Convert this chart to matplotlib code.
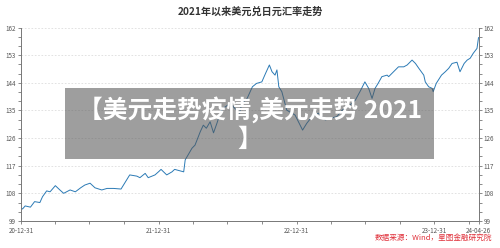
import pandas as pd
import matplotlib
matplotlib.use("Agg")
import matplotlib.pyplot as plt
from matplotlib.patches import Rectangle

plt.rcParams['font.family'] = ['Noto Sans CJK SC', 'DejaVu Sans']

# USD/JPY
dates = [
    '2020-12-31', '2021-01-04', '2021-01-11', '2021-01-25', '2021-02-05', '2021-02-19',
    '2021-02-26', '2021-03-09', '2021-03-18', '2021-04-01', '2021-04-13', '2021-04-23',
    '2021-05-10', '2021-05-24', '2021-06-07', '2021-06-18', '2021-07-02', '2021-07-15',
    '2021-08-02', '2021-08-16', '2021-09-02', '2021-09-22', '2021-10-04', '2021-10-15',
    '2021-11-03', '2021-11-11', '2021-11-25', '2021-12-03', '2021-12-21', '2021-12-31',
    '2022-01-06', '2022-01-21', '2022-02-04', '2022-02-11', '2022-03-07', '2022-03-11',
    '2022-03-29', '2022-04-06', '2022-04-20', '2022-04-28', '2022-05-06', '2022-05-16',
    '2022-05-25', '2022-06-03', '2022-06-13', '2022-06-20', '2022-07-08', '2022-08-02',
    '2022-08-08', '2022-08-22', '2022-09-05', '2022-09-16', '2022-09-30', '2022-10-10',
    '2022-10-20', '2022-10-27', '2022-11-04', '2022-11-09', '2022-11-14', '2022-11-22',
    '2022-12-05', '2022-12-27', '2023-01-16', '2023-01-27', '2023-02-10', '2023-02-27',
    '2023-03-17', '2023-03-30', '2023-04-17', '2023-05-01', '2023-05-22', '2023-06-05',
    '2023-06-19', '2023-06-30', '2023-07-10', '2023-07-19', '2023-07-27', '2023-08-04',
    '2023-08-14', '2023-08-28', '2023-09-01', '2023-09-14', '2023-09-27', '2023-10-11',
    '2023-10-20', '2023-11-02', '2023-11-11', '2023-11-20', '2023-12-03', '2023-12-07',
    '2023-12-16', '2023-12-25', '2023-12-28', '2024-01-05', '2024-01-19', '2024-01-29',
    '2024-02-07', '2024-02-16', '2024-02-29', '2024-03-08', '2024-03-19', '2024-03-27',
    '2024-04-04', '2024-04-12', '2024-04-22', '2024-04-26',
]
rate = [
    103.2, 102.9, 103.9, 103.5, 105.3, 105.0,
    106.9, 108.8, 108.5, 110.5, 109.1, 108.0,
    109.1, 108.5, 109.8, 110.7, 111.3, 109.8,
    109.1, 109.6, 109.6, 109.4, 111.8, 114.0,
    113.6, 113.1, 114.5, 113.1, 114.0, 115.1,
    115.8, 114.0, 115.0, 115.8, 115.0, 118.9,
    122.7, 123.7, 128.1, 130.2, 129.2, 131.3,
    127.7, 130.8, 134.6, 135.7, 137.3, 134.1,
    137.3, 138.9, 142.7, 143.8, 144.3, 147.1,
    149.8, 147.6, 146.5, 148.2, 142.7, 141.1,
    135.1, 133.5, 128.6, 130.8, 133.0, 134.1,
    131.9, 132.4, 133.0, 135.1, 136.8, 138.4,
    141.6, 144.3, 142.2, 138.9, 142.2, 143.8,
    146.0, 146.5, 146.0, 147.6, 149.2, 149.2,
    149.8, 151.4, 150.3, 148.7, 146.5, 144.3,
    142.7, 142.2, 141.1, 143.8, 146.5, 147.6,
    148.7, 150.3, 150.7, 147.6, 150.3, 151.4,
    152.0, 153.6, 155.2, 158.7,
]

yticks = [99, 108, 117, 126, 135, 144, 153, 162]
xtick_dates = ['2020-12-31', '2021-12-31', '2022-12-31', '2023-12-31', '2024-04-26']
xtick_labels = ['20-12-31', '21-12-31', '22-12-31', '23-12-31', '24-04-26']

title = '2021年以来美元兑日元汇率走势'
banner = '【美元走势疫情,美元走势 2021\n】'
source = '数据来源：Wind，星图金融研究院'

x = pd.to_datetime(dates)

fig = plt.figure(figsize=(5, 2.48), dpi=100)
ax = fig.add_axes([0.042, 0.109, 0.915, 0.78])

ax.plot(x, rate, color='#2b7ab5', linewidth=0.7, zorder=2)

ax.set_xlim(pd.Timestamp('2020-12-31'), pd.Timestamp('2024-04-26'))
ax.set_ylim(99, 162)

# y axis on both sides
ax.set_yticks(yticks)
ax.set_yticks(range(99, 163, 3), minor=True)
ax.tick_params(axis='y', which='both', left=True, right=True, labelleft=True,
               labelright=True, labelsize=4.5, labelcolor='#555555', color='#777777',
               length=2.5, width=0.6, pad=1)
ax.tick_params(axis='y', which='minor', length=2)
ax.grid(axis='y', which='major', linestyle=(0, (2, 2)), color='#dddddd', linewidth=0.6)

# x axis
ax.set_xticks(pd.to_datetime(xtick_dates))
ax.set_xticklabels(xtick_labels)
quarters = pd.date_range('2021-03-31', '2024-03-31', freq='QE')
ax.set_xticks(quarters, minor=True)
ax.tick_params(axis='x', which='both', labelsize=4.5, labelcolor='#555555',
               color='#777777', length=2.5, width=0.6, pad=1.5)

ax.spines['top'].set_visible(False)
for s in ['left', 'right', 'bottom']:
    ax.spines[s].set_color('#777777')
    ax.spines[s].set_linewidth(0.7)

fig.text(0.5, 0.952, title, ha='center', va='center', fontsize=7.3, fontweight='bold',
         color='#333333')
fig.text(0.984, 0.04, source, ha='right', va='center', fontsize=5.5, color='#e0303a',
         style='italic')

# grey watermark box
fig.patches.append(Rectangle((0.13, 0.359), 0.738, 0.286, transform=fig.transFigure,
                             facecolor='#555555', alpha=0.57, edgecolor='none', zorder=5))
fig.text(0.5, 0.50, banner, ha='center', va='center', fontsize=17.8, fontweight='bold',
         color='white', linespacing=1.25, zorder=6)

fig.savefig('out.png', dpi=100)
